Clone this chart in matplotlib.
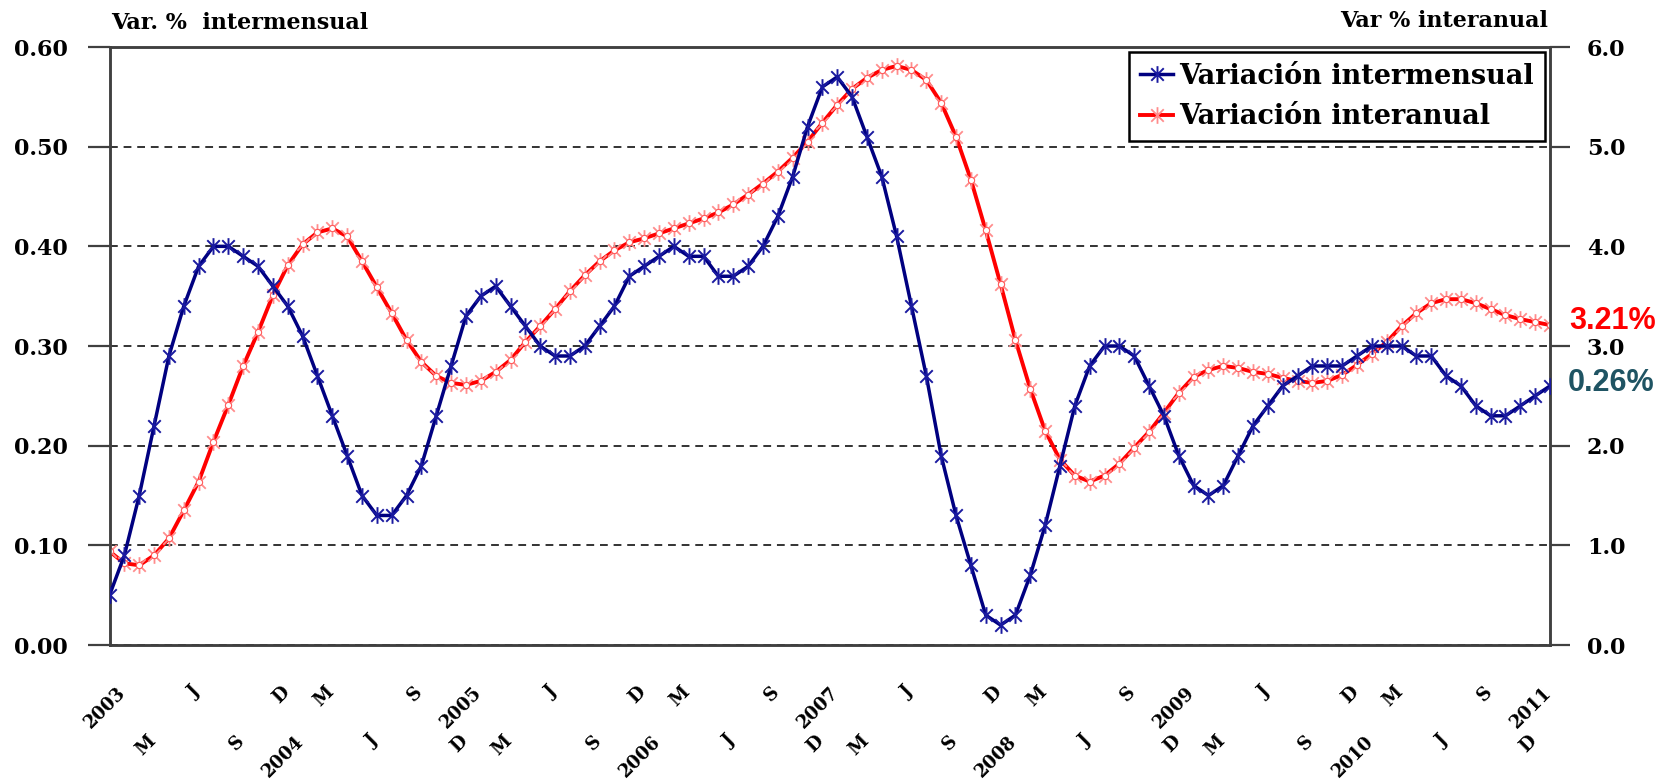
import numpy as np
import matplotlib
matplotlib.use("Agg")
import matplotlib.pyplot as plt
from matplotlib.path import Path
from matplotlib import transforms

# monthly data, Jan 2003 .. Feb 2011
intermensual = [0.05, 0.09, 0.15, 0.22, 0.29, 0.34, 0.38, 0.40, 0.40, 0.39, 0.38, 0.36,
                0.34, 0.31, 0.27, 0.23, 0.19, 0.15, 0.13, 0.13, 0.15, 0.18, 0.23, 0.28,
                0.33, 0.35, 0.36, 0.34, 0.32, 0.30, 0.29, 0.29, 0.30, 0.32, 0.34, 0.37,
                0.38, 0.39, 0.40, 0.39, 0.39, 0.37, 0.37, 0.38, 0.40, 0.43, 0.47, 0.52,
                0.56, 0.57, 0.55, 0.51, 0.47, 0.41, 0.34, 0.27, 0.19, 0.13, 0.08, 0.03,
                0.02, 0.03, 0.07, 0.12, 0.18, 0.24, 0.28, 0.30, 0.30, 0.29, 0.26, 0.23,
                0.19, 0.16, 0.15, 0.16, 0.19, 0.22, 0.24, 0.26, 0.27, 0.28, 0.28, 0.28,
                0.29, 0.30, 0.30, 0.30, 0.29, 0.29, 0.27, 0.26, 0.24, 0.23, 0.23, 0.24,
                0.25, 0.26]
interanual = [0.94, 0.82, 0.80, 0.90, 1.07, 1.35, 1.64, 2.04, 2.41, 2.80, 3.14, 3.51,
              3.81, 4.02, 4.14, 4.18, 4.10, 3.85, 3.59, 3.33, 3.06, 2.84, 2.70, 2.63,
              2.61, 2.65, 2.74, 2.86, 3.04, 3.20, 3.37, 3.55, 3.71, 3.85, 3.96, 4.04,
              4.08, 4.13, 4.18, 4.23, 4.28, 4.34, 4.42, 4.52, 4.63, 4.75, 4.89, 5.05,
              5.24, 5.42, 5.58, 5.69, 5.77, 5.81, 5.77, 5.67, 5.44, 5.10, 4.67, 4.16,
              3.62, 3.06, 2.57, 2.15, 1.86, 1.70, 1.64, 1.70, 1.82, 1.98, 2.14, 2.33,
              2.53, 2.69, 2.76, 2.80, 2.78, 2.74, 2.72, 2.68, 2.65, 2.63, 2.65, 2.71,
              2.81, 2.92, 3.04, 3.20, 3.33, 3.43, 3.47, 3.47, 3.43, 3.37, 3.31, 3.27,
              3.24, 3.21]

years = ['2003', '2004', '2005', '2006', '2007', '2008', '2009', '2010', '2011']
month_letters = ['M', 'J', 'S', 'D']      # marzo, junio, septiembre, diciembre
month_offsets = [2, 5, 8, 11]

label_intermensual = 'Variación intermensual'
label_interanual = 'Variación interanual'
last_inter = '0.26%'
last_anual = '3.21%'

plt.rcParams['font.family'] = 'DejaVu Serif'
plt.rcParams['font.weight'] = 'bold'

x = np.arange(len(intermensual))

fig = plt.figure(figsize=(16.75, 7.81), dpi=100)
ax2 = fig.add_axes([0.0654, 0.1741, 0.8600, 0.7657])
ax = ax2.twinx()
ax.yaxis.tick_left()
ax2.yaxis.tick_right()
ax.set_zorder(ax2.get_zorder() + 1)
ax.patch.set_visible(False)

# excel-like star marker: vertical bar + X
star = Path([(0, -1), (0, 1), (-0.75, -0.75), (0.75, 0.75), (-0.75, 0.75), (0.75, -0.75)],
            [Path.MOVETO, Path.LINETO, Path.MOVETO, Path.LINETO, Path.MOVETO, Path.LINETO])

# red series on the right axis
ax2.plot(x, interanual, color='#ff0000', lw=2.8, zorder=3)
ax2.plot(x, interanual, ls='none', marker=star, ms=12, mec='#ff8c8c', mew=1.3, zorder=4)
ax2.plot(x, interanual, ls='none', marker='o', ms=4.5, mfc='white', mec='#ff5a5a', mew=0.8, zorder=5)

# blue series on the left axis
ax.plot(x, intermensual, color='#000080', lw=2.5, marker=star, ms=12,
        mec='#1a1aa0', mew=1.4, zorder=3)

ax.set_xlim(0, len(x) - 1)
ax2.set_xlim(0, len(x) - 1)
ax.set_ylim(0, 0.6)
ax2.set_ylim(0, 6.0)
ax.set_yticks(np.arange(0, 0.61, 0.1))
ax.set_yticklabels([f'{v:.2f}' for v in np.arange(0, 0.61, 0.1)])
ax2.set_yticks(np.arange(0, 6.01, 1.0))
ax2.set_yticklabels([f'{v:.1f}' for v in np.arange(0, 6.01, 1.0)])

ax2.yaxis.grid(True, linestyle=(0, (4, 3)), color='#333333', lw=1.4)
ax2.set_axisbelow(True)

for a in (ax, ax2):
    for s in a.spines.values():
        s.set_color('#404040')
        s.set_linewidth(1.8)
ax.tick_params(axis='y', direction='out', length=16, width=1.6, color='#404040',
               labelsize=16, pad=14)
ax2.tick_params(axis='y', direction='out', length=14.5, width=1.6, color='#404040',
                labelsize=16, pad=12)

# monthly tick marks on the bottom
ax2.set_xticks(x)
ax2.set_xticklabels([])
ax2.tick_params(axis='x', direction='out', length=14.5, width=1.6, color='#404040')
ax.tick_params(axis='x', length=0)
ax.set_xticks([])

# month / year labels in two staggered rows
tick_pos, tick_txt = [], []
for k, yr in enumerate(years):
    tick_pos.append(12 * k)
    tick_txt.append(yr)
    if k < len(years) - 1:
        for off, m in zip(month_offsets, month_letters):
            tick_pos.append(12 * k + off)
            tick_txt.append(m)

base = transforms.offset_copy(ax2.get_xaxis_transform(), fig=fig, x=7, y=0, units='dots')
for n, (p, t) in enumerate(zip(tick_pos, tick_txt)):
    yy = -0.064 if n % 2 == 0 else -0.146
    ax2.text(p, yy, t, transform=base, rotation=45, rotation_mode='anchor',
             ha='right', va='top', fontsize=13, fontweight='bold')

# axis titles
fig.text(111 / 1675, 1 - 29 / 781, 'Var. %  intermensual', fontsize=16,
         fontweight='bold', va='baseline', ha='left')
fig.text(1548 / 1675, 1 - 27 / 781, 'Var % interanual', fontsize=16,
         fontweight='bold', va='baseline', ha='right')

# end value labels
ax2.annotate(last_anual, xy=(x[-1], interanual[-1]), xytext=(14, 3),
             textcoords='offset points', color='#ff0000', fontsize=22,
             fontweight='bold', family='Liberation Sans', va='center', ha='left',
             annotation_clip=False)
ax.annotate(last_inter, xy=(x[-1], intermensual[-1]), xytext=(13, 2),
            textcoords='offset points', color='#1f5463', fontsize=22,
            fontweight='bold', family='Liberation Sans', va='center', ha='left',
            annotation_clip=False)

# legend
h1 = plt.Line2D([], [], color='#000080', lw=2.5, marker=star, ms=12, mec='#1a1aa0', mew=1.4)
h2 = plt.Line2D([], [], color='#ff0000', lw=2.8, marker=star, ms=12, mec='#ff8c8c', mew=1.3)
leg = ax.legend([h1, h2], [label_intermensual, label_interanual],
                loc='upper right', bbox_to_anchor=(0.9965, 0.992), borderaxespad=0,
                fancybox=False, edgecolor='black', framealpha=1,
                handlelength=1.2, handletextpad=0.25, borderpad=0.4, labelspacing=0.5,
                prop={'weight': 'bold', 'size': 19.5})
leg.get_frame().set_linewidth(1.8)

fig.savefig('out.png', dpi=100)
